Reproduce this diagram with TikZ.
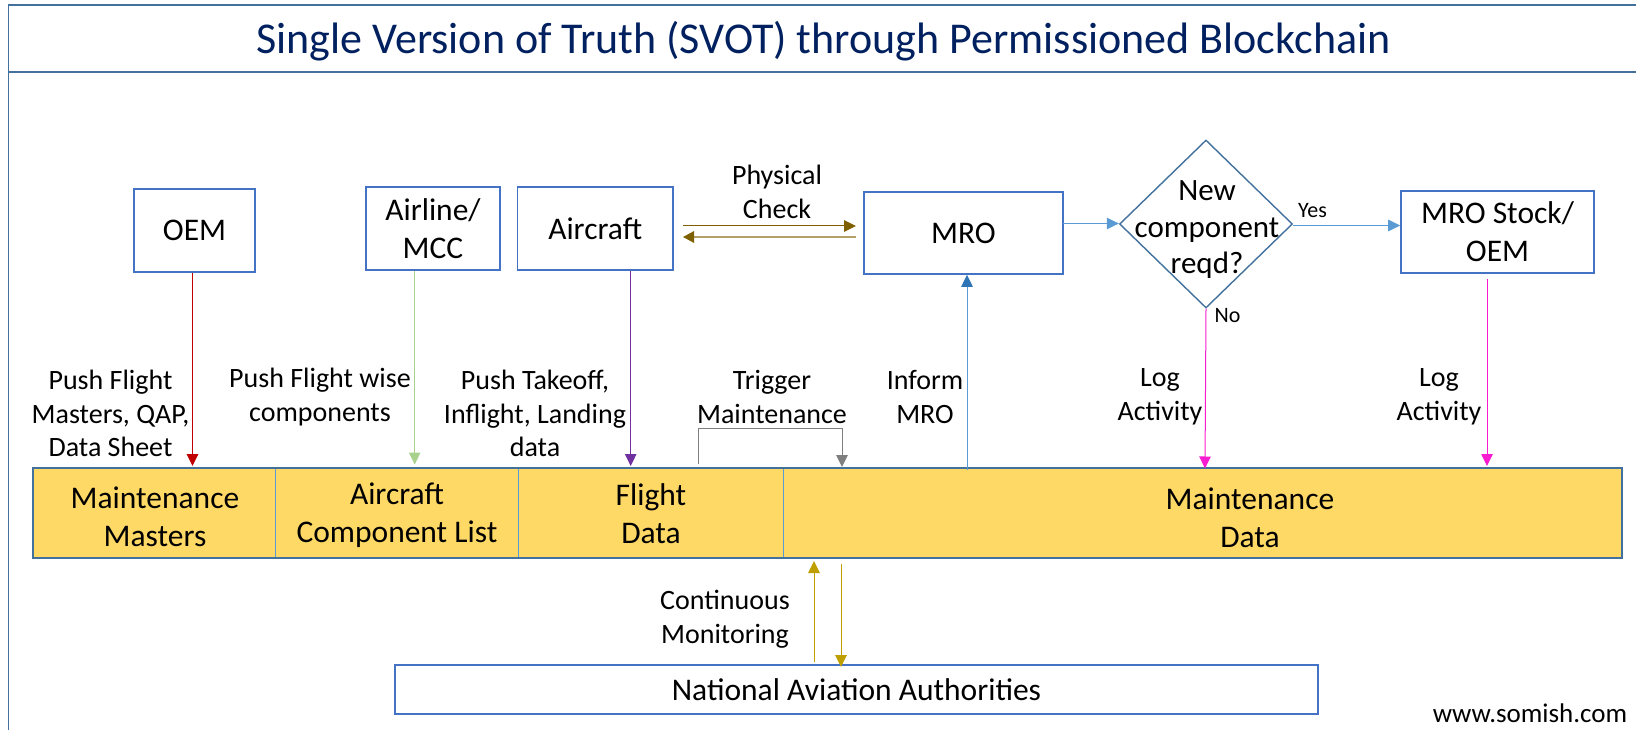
\documentclass[tikz,border=0pt]{standalone}
\usepackage{fontspec}
\setmainfont{Carlito}
\usetikzlibrary{shapes.geometric,arrows.meta}
\definecolor{framec}{HTML}{41719C}
\definecolor{boxc}{HTML}{4472C4}
\definecolor{titlec}{HTML}{002060}
\definecolor{bandc}{HTML}{FFD966}
\definecolor{lineblue}{HTML}{5B9BD5}
\definecolor{headblue}{HTML}{2E75B6}
\definecolor{redc}{HTML}{C00000}
\definecolor{greenc}{HTML}{A9D18E}
\definecolor{purplec}{HTML}{7030A0}
\definecolor{grayc}{HTML}{7F7F7F}
\definecolor{magentac}{HTML}{F81BD0}
\definecolor{goldc}{HTML}{BF9F00}
\definecolor{brownc}{HTML}{7F6000}
\tikzset{
  box/.style={draw=boxc,line width=1.6pt,fill=white,inner sep=0pt,align=center,font=\fontsize{31.5}{38}\selectfont},
  cell/.style={draw=lineblue,line width=0.8pt,fill=bandc,inner sep=0pt,minimum height=89.5pt},
  lab/.style={inner sep=0pt,align=center,font=\fontsize{28}{33.5}\selectfont},
  blab/.style={inner sep=0pt,align=center,font=\fontsize{31.5}{38}\selectfont},
  small/.style={inner sep=0pt,font=\fontsize{22}{24}\selectfont},
  conn/.style={line width=1pt,-{Triangle[length=12pt,width=11.5pt]}},
}
\begin{document}
\begin{tikzpicture}[x=1pt,y=-1pt]
\useasboundingbox (0,0) rectangle (1636,730);
% frame
\draw[framec,line width=1.6pt] (1636,5) -- (8.5,5) -- (8.5,730);
\draw[framec,line width=2pt] (8.5,72) -- (1636,72);
\node[inner sep=0pt,text=titlec,font=\fontsize{44}{50}\selectfont] (title) at (823.5,41) {Single Version of Truth (SVOT) through Permissioned Blockchain};
% boxes
\node[box,minimum width=121.5pt,minimum height=83pt] (oem) at (194.5,230.5) {OEM};
\node[box,minimum width=134pt,minimum height=83pt] (airline) at (433,228.5) {Airline/\\MCC};
\node[box,minimum width=155.5pt,minimum height=83pt] (aircraft) at (595.25,228.5) {Aircraft};
\node[box,minimum width=198.5pt,minimum height=82pt] (mro) at (963.5,233) {MRO};
\node[draw=framec,line width=1.4pt,diamond,aspect=1,inner sep=0pt,minimum width=173pt,minimum height=168pt] (dec) at (1206,224) {};
\node[blab,font=\fontsize{31}{36.5}\selectfont] (dect) at (1207,230) {New\\component\\reqd?};
\node[box,minimum width=193pt,minimum height=82pt] (stock) at (1497.5,232) {MRO Stock/\\OEM};
% band
\node[cell,minimum width=242.4pt] (c1) at (154.2,513) {};
\node[cell,minimum width=243.1pt] (c2) at (397,513) {};
\node[cell,minimum width=265pt] (c3) at (651,513) {};
\node[cell,minimum width=838.5pt] (c4) at (1202.75,513) {};
\draw[framec,line width=1.6pt] (33,468.2) rectangle (1622,557.8);
\node[blab] (t1) at (155,517) {Maintenance\\Masters};
\node[blab] (t2) at (397,515) {Aircraft\\Component List};
\node[blab] (t3) at (651,514) {Flight\\Data};
\node[blab] (t4) at (1250,518) {Maintenance\\Data};
\node[box,minimum width=923pt,minimum height=48.5pt] (naa) at (856.5,689.5) {National Aviation Authorities};
% labels
\node[lab] (l1) at (110.5,413.5) {Push Flight\\Masters, QAP,\\Data Sheet};
\node[lab] (l2) at (320,397) {Push Flight wise\\components};
\node[lab] (l3) at (535,413.5) {Push Takeoff,\\Inflight, Landing\\data};
\node[lab] (l4) at (772,397) {Trigger\\Maintenance};
\node[lab] (l5) at (925,397) {Inform\\MRO};
\node[lab] (l6) at (1160,397) {Log\\Activity};
\node[lab] (l7) at (1439,397) {Log\\Activity};
\node[lab] (l8) at (725,619) {Continuous\\Monitoring};
\node[lab] (l9) at (777,192) {Physical\\Check};
\node[small] (yes) at (1312.5,211) {Yes};
\node[small] (no) at (1227.5,316) {No};
\node[inner sep=0pt,font=\fontsize{27}{30}\selectfont] (web) at (1530,713) {www.somish.com};
% connector ends
\coordinate (a1) at (192.5,466);
\coordinate (a2) at (414.7,464.5);
\coordinate (a3) at (630.7,466);
\coordinate (a4) at (1205,468.5);
\coordinate (a5) at (1487,466);
\coordinate (a5s) at (1487,279);
\coordinate (inf) at (967,470);
\coordinate (tr1) at (698,463.5);
\coordinate (tr2) at (842,467);
\coordinate (cu) at (814,561);
\coordinate (cus) at (814,662);
\coordinate (cd) at (841,667);
\coordinate (cds) at (841,564);
\coordinate (pc1) at (683,226);
\coordinate (pc2) at (856,226);
\coordinate (pc3) at (856,237);
\coordinate (pc4) at (683,237);
\coordinate (m1) at (1063,223.5);
\coordinate (y1) at (1293,225.5);
% connectors
\draw[conn,draw=redc] (oem.south -| a1) -- (a1);
\draw[conn,draw=greenc] (airline.south -| a2) -- (a2);
\draw[conn,draw=purplec] (aircraft.south -| a3) -- (a3);
\draw[conn,draw=magentac] (dec.south) -- (a4);
\draw[conn,draw=magentac] (a5s) -- (a5);
\draw[conn,draw=lineblue,-{Triangle[length=12pt,width=11.5pt,color=headblue]}] (inf) -- (mro.south -| inf);
\draw[line width=1pt,draw=grayc,-{Triangle[length=12pt,width=11.5pt]}] (tr1) -- (698,428) -- (842,428) -- (tr2);
\draw[conn,draw=goldc] (cus) -- (cu);
\draw[conn,draw=goldc] (cds) -- (cd);
\draw[conn,draw=brownc] (pc1) -- (pc2);
\draw[line width=1.6pt,draw=brownc!60,-{Triangle[length=11pt,width=11.5pt,color=brownc]}] (pc3) -- (pc4);
\draw[conn,draw=lineblue] (m1) -- (dec.west |- m1);
\draw[conn,draw=lineblue] (y1) -- (stock.west |- y1);
\end{tikzpicture}
\end{document}
